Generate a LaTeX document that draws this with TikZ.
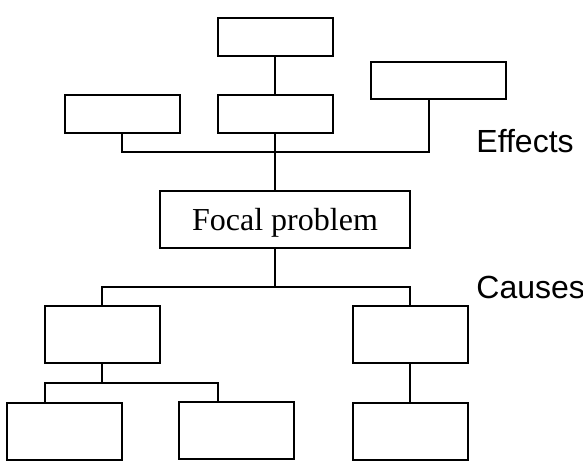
\documentclass[tikz,border=0pt]{standalone}
\usepackage{fontspec}
\setmainfont{Liberation Serif}
\newfontfamily\labelfont{Liberation Sans}

\begin{document}
\begin{tikzpicture}[x=0.5pt, y=-0.5pt,
	box/.style={draw, line width=1pt, inner sep=0pt, minimum width=57.5pt, minimum height=19pt},
	tallbox/.style={box, minimum height=28.5pt},
	link/.style={line width=0.8pt},
	side/.style={anchor=base west, inner sep=0pt, font=\labelfont\fontsize{16}{19}\selectfont}]
	\useasboundingbox (0,0) rectangle (583,462);

	\node[box] (etop) at (275,37) {};
	\node[box] (emid) at (275,114) {};
	\node[box] (eleft) at (122,114) {};
	\node[box, minimum width=67.5pt, minimum height=18.5pt] (eright) at (438.5,80.5) {};

	\node[tallbox, minimum width=125pt, text depth=0pt, font=\fontsize{16}{19}\selectfont] (focal) at (285,219.5) {Focal problem};

	\node[tallbox] (cleft) at (102,334.5) {};
	\node[tallbox] (cright) at (410,334.5) {};
	\node[tallbox] (sleft) at (64.5,431) {};
	\node[tallbox] (smid) at (236.5,430.5) {};
	\node[tallbox] (sright) at (410,431) {};

	\coordinate (ebar) at (429,152);
	\coordinate (cbar) at (275,287);
	\coordinate (sbarL) at (45,383);
	\coordinate (sbarR) at (218,383);

	\draw[link] (etop) -- (emid);
	\draw[link] (emid.south) -- (emid.south |- focal.north);
	\draw[link] (eleft.south) |- (ebar) -- (ebar |- eright.south);
	\draw[link] (emid.south |- focal.south) -- (cbar);
	\draw[link] (cleft.north) |- (cbar) -| (cright.north);
	\draw[link] (cleft.south) -- (cleft.south |- sbarL);
	\draw[link] (sleft.north -| sbarL) |- (sbarR) -- (smid.north -| sbarR);
	\draw[link] (cright) -- (sright);

	\node[side] (effects) at (476,152) {Effects};
	\node[side] (causes) at (476,298) {Causes};
\end{tikzpicture}
\end{document}
